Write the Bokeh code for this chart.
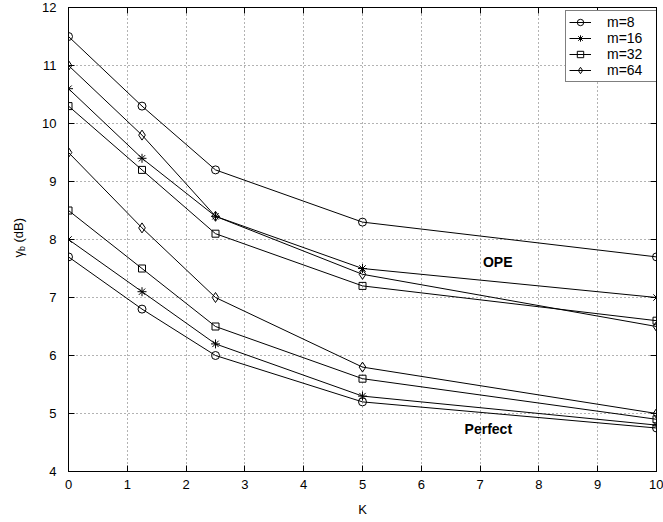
import math
from bokeh.plotting import figure
from bokeh.layouts import row
from bokeh.models import (Range1d, LinearAxis, SingleIntervalTicker, Legend,
                          LegendItem, Label, CustomLabelingPolicy)
from bokeh.embed import file_html
from bokeh.resources import INLINE

# ---- data ----
K = [0, 1.25, 2.5, 5, 10]
ope_m8 = [11.5, 10.3, 9.2, 8.3, 7.7]
ope_m16 = [10.6, 9.4, 8.4, 7.5, 7.0]
ope_m32 = [10.3, 9.2, 8.1, 7.2, 6.6]
ope_m64 = [11.0, 9.8, 8.4, 7.4, 6.5]
perf_m8 = [7.7, 6.8, 6.0, 5.2, 4.75]
perf_m16 = [8.0, 7.1, 6.2, 5.3, 4.8]
perf_m32 = [8.5, 7.5, 6.5, 5.6, 4.9]
perf_m64 = [9.5, 8.2, 7.0, 5.8, 5.0]
series_labels = ["m=8", "m=16", "m=32", "m=64"]
x_ticks_step = 1
y_ticks_step = 1

FONT = "Liberation Sans"
FS = "13px"
TITLE_W = 30
H = 522
F_TOP, F_BOT = 7, 471   # frame edges (canvas px); row() aligns both frames

# ---- narrow strip carrying the rotated y-axis title (gamma_b (dB)) ----
# its frame is aligned with the main frame, so map data y = H - canvas y
pt = figure(width=TITLE_W, height=H, output_backend="svg",
            toolbar_location=None, x_axis_type=None, y_axis_type=None,
            x_range=Range1d(0, TITLE_W), y_range=Range1d(H - F_BOT, H - F_TOP),
            min_border=0, min_border_left=0, min_border_right=0,
            min_border_top=F_TOP, min_border_bottom=H - F_BOT,
            background_fill_color="white", border_fill_color="white")
pt.outline_line_color = None
ang = math.pi / 2
pt.add_layout(Label(x=18, y=H - 257, text="γ", angle=ang,
                    text_align="left", text_baseline="alphabetic",
                    text_font=FONT, text_font_size=FS, text_color="black"))
pt.add_layout(Label(x=21.5, y=H - 250.5, text="b", angle=ang,
                    text_align="left", text_baseline="alphabetic",
                    text_font=FONT, text_font_size="9px", text_color="black"))
pt.add_layout(Label(x=18, y=H - 242, text="(dB)", angle=ang,
                    text_align="left", text_baseline="alphabetic",
                    text_font=FONT, text_font_size=FS, text_color="black"))

# ---- main chart ----
p = figure(width=663 - TITLE_W, height=H, output_backend="svg",
           toolbar_location=None,
           x_range=Range1d(0, 10), y_range=Range1d(4, 12),
           min_border_left=68 - TITLE_W, min_border_right=7,
           min_border_top=F_TOP, min_border_bottom=H - F_BOT,
           background_fill_color="white", border_fill_color="white")
p.outline_line_color = "black"
p.outline_line_width = 1

xt = SingleIntervalTicker(interval=x_ticks_step, num_minor_ticks=0)
yt = SingleIntervalTicker(interval=y_ticks_step, num_minor_ticks=0)


def style_axis(ax, ticker, labels=True):
    ax.ticker = ticker
    ax.axis_line_color = "black"
    ax.axis_line_width = 1
    ax.major_tick_in = 6
    ax.major_tick_out = 0
    ax.minor_tick_in = 0
    ax.minor_tick_out = 0
    ax.major_tick_line_color = "black"
    if labels:
        ax.major_label_text_font = FONT
        ax.major_label_text_font_size = FS
        ax.major_label_text_color = "black"
    else:
        ax.major_label_text_font_size = "0px"
        ax.major_label_standoff = 0
        ax.major_label_policy = CustomLabelingPolicy(
            code="return new Set()")


style_axis(p.xaxis[0], xt)
style_axis(p.yaxis[0], yt)
p.xaxis[0].major_label_standoff = 8
p.yaxis[0].major_label_standoff = 12
p.xaxis[0].axis_label = "K"
p.xaxis[0].axis_label_text_font = FONT
p.xaxis[0].axis_label_text_font_size = FS
p.xaxis[0].axis_label_text_font_style = "normal"
p.xaxis[0].axis_label_text_color = "black"
p.xaxis[0].axis_label_standoff = 10

top_ax = LinearAxis()
style_axis(top_ax, xt, labels=False)
right_ax = LinearAxis()
style_axis(right_ax, yt, labels=False)
p.add_layout(top_ax, "above")
p.add_layout(right_ax, "right")

p.xgrid.ticker = xt
p.ygrid.ticker = yt
p.grid.grid_line_color = "#666666"
p.grid.grid_line_dash = "1 3"
p.grid.grid_line_width = 1

markers = ["circle", "asterisk", "square", "diamond"]
sizes = [8, 9, 7, 10]
ope = [ope_m8, ope_m16, ope_m32, ope_m64]
perf = [perf_m8, perf_m16, perf_m32, perf_m64]

items = []
for lab, mk, sz, yo, yp in zip(series_labels, markers, sizes, ope, perf):
    l1 = p.line(K, yo, line_color="black", line_width=1)
    s1 = p.scatter(K, yo, marker=mk, size=sz, line_color="black",
                   fill_color=None, line_width=1)
    p.line(K, yp, line_color="black", line_width=1)
    p.scatter(K, yp, marker=mk, size=sz, line_color="black",
              fill_color=None, line_width=1)
    items.append(LegendItem(label=lab, renderers=[l1, s1]))

legend = Legend(items=items, location=(497, 389), margin=0,
                border_line_color="black", border_line_width=1,
                background_fill_color="white", background_fill_alpha=1,
                label_text_font=FONT, label_text_font_size="14px",
                label_text_color="black",
                glyph_width=22, glyph_height=16, label_height=16,
                label_width=46, label_standoff=16, spacing=0, padding=3)
p.add_layout(legend)

# curve-family annotations
p.add_layout(Label(x=7.3, y=7.62, text="OPE", text_align="center",
                   text_baseline="middle", text_font=FONT,
                   text_font_size="14px", text_font_style="bold",
                   text_color="black"))
p.add_layout(Label(x=7.14, y=4.73, text="Perfect", text_align="center",
                   text_baseline="middle", text_font=FONT,
                   text_font_size="14px", text_font_style="bold",
                   text_color="black"))

layout = row(pt, p, spacing=0)
open("out.html", "w").write(file_html(layout, INLINE))
